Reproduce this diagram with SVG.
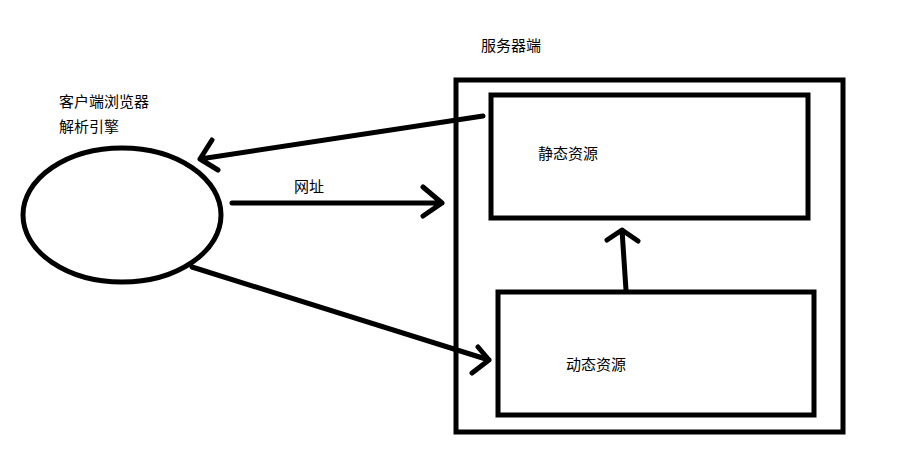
<svg xmlns="http://www.w3.org/2000/svg" width="897" height="472" viewBox="0 0 897 472">
<style>
  .shape { fill: none; stroke: #000; stroke-width: 5; }
  .conn { fill: none; stroke: #000; stroke-width: 5; stroke-linecap: round; stroke-linejoin: round; }
  text { font-family: "Noto Sans CJK SC", "Microsoft YaHei", sans-serif; font-size: 15px; fill: #000; }
</style>
<rect width="897" height="472" fill="#fff"/>
<g id="client">
  <ellipse class="shape" cx="122" cy="215" rx="99" ry="67"/>
  <text x="59" y="107">客户端浏览器</text>
  <text x="59" y="132">解析引擎</text>
</g>
<g id="server">
  <rect class="shape" x="456" y="80" width="387" height="352"/>
  <text x="481" y="51">服务器端</text>
</g>
<g id="static">
  <rect class="shape" x="491" y="95" width="317" height="123"/>
  <text x="538" y="159">静态资源</text>
</g>
<g id="dynamic">
  <rect class="shape" x="498" y="292" width="316" height="123"/>
  <text x="566" y="370">动态资源</text>
</g>
<g id="connectors">
  <path class="conn" d="M483,116 L200,159 M212,140 L200,159 L218,170"/>
  <path class="conn" d="M232,203 L442,203 M423,187 L442,203 L423,216"/>
  <text x="294" y="192">网址</text>
  <path class="conn" d="M192,267 L489,360 M478,347 L489,360 L472,373"/>
  <path class="conn" d="M626,290 L622,230 M607,240 L622,230 L638,241"/>
</g>
</svg>
